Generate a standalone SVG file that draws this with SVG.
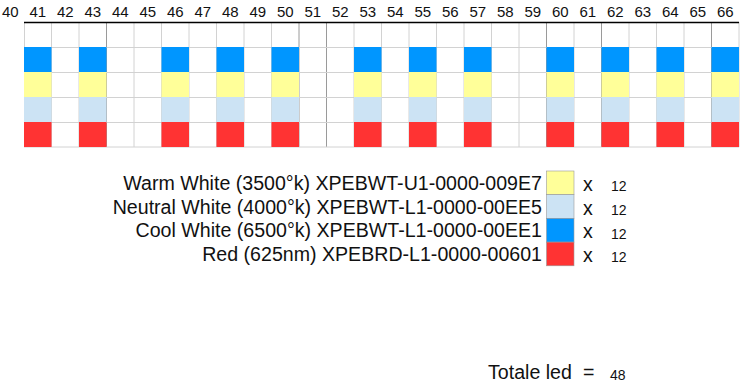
<svg xmlns="http://www.w3.org/2000/svg" width="750" height="390" viewBox="0 0 750 390">
<style>
text{font-family:"Liberation Sans",Arial,sans-serif;fill:#111}
.hd{font-size:15px;text-anchor:middle}
.lg{font-size:19.6px;text-anchor:end}
.x{font-size:19.5px}
.n{font-size:14px}
.gl{stroke:#d2d2d2;stroke-width:1}
.gd{stroke:#9a9a9a;stroke-width:1}
.b{fill:#0096FF}.y{fill:#FFFF99}.lb{fill:#CCE3F4}.r{fill:#FF3333}
.sw{stroke:#999;stroke-width:0.6}
</style>
<rect width="750" height="390" fill="#fff"/>
<g id="header">
<text class="hd" x="10.25" y="17">40</text>
<text class="hd" x="37.75" y="17">41</text>
<text class="hd" x="65.25" y="17">42</text>
<text class="hd" x="92.75" y="17">43</text>
<text class="hd" x="120.25" y="17">44</text>
<text class="hd" x="147.75" y="17">45</text>
<text class="hd" x="175.25" y="17">46</text>
<text class="hd" x="202.75" y="17">47</text>
<text class="hd" x="230.25" y="17">48</text>
<text class="hd" x="257.75" y="17">49</text>
<text class="hd" x="285.25" y="17">50</text>
<text class="hd" x="312.75" y="17">51</text>
<text class="hd" x="340.25" y="17">52</text>
<text class="hd" x="367.75" y="17">53</text>
<text class="hd" x="395.25" y="17">54</text>
<text class="hd" x="422.75" y="17">55</text>
<text class="hd" x="450.25" y="17">56</text>
<text class="hd" x="477.75" y="17">57</text>
<text class="hd" x="505.25" y="17">58</text>
<text class="hd" x="532.75" y="17">59</text>
<text class="hd" x="560.25" y="17">60</text>
<text class="hd" x="587.75" y="17">61</text>
<text class="hd" x="615.25" y="17">62</text>
<text class="hd" x="642.75" y="17">63</text>
<text class="hd" x="670.25" y="17">64</text>
<text class="hd" x="697.75" y="17">65</text>
<text class="hd" x="725.25" y="17">66</text>
</g>
<g id="grid">
<path class="gl" d="M24.5 22V147 M51.5 22V147 M79 22V147 M134 22V147 M161.5 22V147 M189 22V147 M216.5 22V147 M244 22V147 M271.5 22V147 M354 22V147 M381.5 22V147 M409 22V147 M436.5 22V147 M464 22V147 M491.5 22V147 M519 22V147 M574 22V147 M629 22V147 M656.5 22V147 M684 22V147 M739 22V147"/>
<path class="gd" d="M106.5 22V147 M299 22V147 M326.5 22V147 M546.5 22V147 M601.5 22V147 M711.5 22V147"/>
<path class="gl" d="M24 47.5H739 M24 72.5H739 M24 97.5H739 M24 122.5H739 M24 147H739"/>
<path d="M24 22.5H739" stroke="#000" stroke-width="1.5"/>
</g>
<defs>
<g id="col">
<rect class="b" x="0" y="47" width="27.5" height="25"/>
<rect class="y" x="0" y="72" width="27.5" height="25"/>
<rect class="lb" x="0" y="97" width="27.5" height="25"/>
<rect class="r" x="0" y="122" width="27.5" height="25"/>
</g>
</defs>
<g id="col41"><use href="#col" x="24"/></g>
<g id="col43"><use href="#col" x="79"/></g>
<g id="col46"><use href="#col" x="161.5"/></g>
<g id="col48"><use href="#col" x="216.5"/></g>
<g id="col50"><use href="#col" x="271.5"/></g>
<g id="col53"><use href="#col" x="354"/></g>
<g id="col55"><use href="#col" x="409"/></g>
<g id="col57"><use href="#col" x="464"/></g>
<g id="col60"><use href="#col" x="546.5"/></g>
<g id="col62"><use href="#col" x="601.5"/></g>
<g id="col64"><use href="#col" x="656.5"/></g>
<g id="col66"><use href="#col" x="711.5"/></g>
<g id="legend-warm">
<text class="lg" x="542" y="190">Warm White (3500°k) XPEBWT-U1-0000-009E7</text>
<rect class="y sw" x="546.5" y="171" width="27.5" height="23.7"/>
<text class="x" x="583" y="191">x</text>
<text class="n" x="611" y="191">12</text>
</g>
<g id="legend-neutral">
<text class="lg" x="542" y="213.7">Neutral White (4000°k) XPEBWT-L1-0000-00EE5</text>
<rect class="lb sw" x="546.5" y="194.7" width="27.5" height="23.7"/>
<text class="x" x="583" y="214.7">x</text>
<text class="n" x="611" y="215">12</text>
</g>
<g id="legend-cool">
<text class="lg" x="542" y="237.4">Cool White (6500°k) XPEBWT-L1-0000-00EE1</text>
<rect class="b sw" x="546.5" y="218.4" width="27.5" height="23.7"/>
<text class="x" x="583" y="238.4">x</text>
<text class="n" x="611" y="238.7">12</text>
</g>
<g id="legend-red">
<text class="lg" x="542" y="261.1">Red (625nm) XPEBRD-L1-0000-00601</text>
<rect class="r sw" x="546.5" y="242.1" width="27.5" height="23.7"/>
<text class="x" x="583" y="262.1">x</text>
<text class="n" x="611" y="262.4">12</text>
</g>
<g id="total">
<text x="488" y="379" style="font-size:19.6px">Totale led</text>
<text x="583" y="379" style="font-size:19.6px">=</text>
<text class="n" x="610" y="380">48</text>
</g>
</svg>
